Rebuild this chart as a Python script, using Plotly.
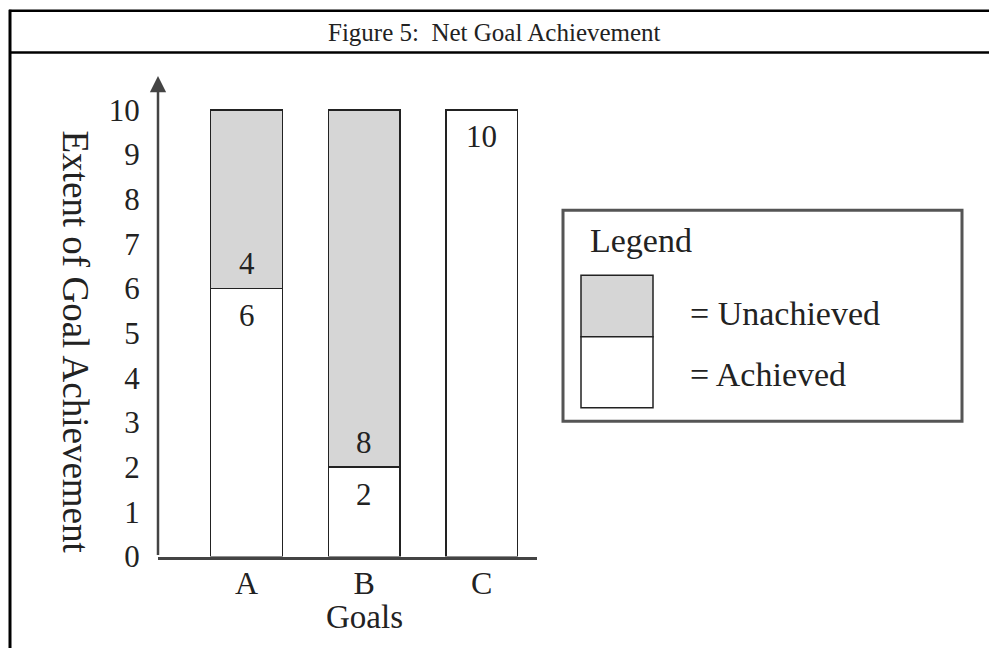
import plotly.graph_objects as go

W, H = 989, 666

# ---- data ----
goals = ["A", "B", "C"]
achieved = [6, 2, 10]
unachieved = [4, 8, 0]
y_ticks = list(range(0, 11))
title_text = "Figure 5:  Net Goal Achievement"
x_title = "Goals"
y_title = "Extent of Goal Achievement"
legend_title = "Legend"
legend_labels = ["= Unachieved", "= Achieved"]

FONT = "Liberation Serif, Times New Roman, serif"
INK = "#222222"
AXIS = "#444444"
GRAY = "#d6d6d6"


def px(x):
    return x / W


def py(y):
    return 1 - y / H


fig = go.Figure()
bar_line = dict(color=INK, width=1.5)
fig.add_bar(x=goals, y=achieved, name="Achieved", width=0.61,
            marker=dict(color="white", line=bar_line), hoverinfo="skip")
fig.add_bar(x=goals, y=unachieved, name="Unachieved", width=0.61,
            marker=dict(color=GRAY, line=bar_line), hoverinfo="skip")

annotations = []
for g, a, u in zip(goals, achieved, unachieved):
    annotations.append(dict(x=g, y=a, xref="x", yref="y", text=str(a), showarrow=False,
                            yanchor="middle", yshift=-27, font=dict(family=FONT, size=31, color=INK)))
    if u > 0:
        annotations.append(dict(x=g, y=a, xref="x", yref="y", text=str(u), showarrow=False,
                                yanchor="middle", yshift=25, font=dict(family=FONT, size=31, color=INK)))

y_top = 10.76
# y axis with arrow
annotations.append(dict(x=px(158), xref="paper", y=y_top, yref="y", ax=0, axref="pixel",
                        ay=0, ayref="y", showarrow=True, arrowhead=2, arrowsize=1.3,
                        arrowwidth=2.5, arrowcolor=AXIS, text=""))

# titles
annotations.append(dict(x=px(494), y=py(33), xref="paper", yref="paper", text=title_text,
                        showarrow=False, xanchor="center", yanchor="middle",
                        font=dict(family=FONT, size=25, color=INK)))
annotations.append(dict(x=px(364), y=py(634), xref="paper", yref="paper", text=x_title,
                        showarrow=False, xanchor="center", yanchor="middle",
                        font=dict(family=FONT, size=33, color=INK)))
annotations.append(dict(x=px(75), y=py(351), xref="paper", yref="paper", text=y_title,
                        showarrow=False, xanchor="center", yanchor="middle", textangle=90,
                        font=dict(family=FONT, size=37, color=INK)))

# legend texts
annotations.append(dict(x=px(588), y=py(247), xref="paper", yref="paper", text=legend_title,
                        showarrow=False, xanchor="left", yanchor="middle",
                        font=dict(family=FONT, size=34, color=INK)))
for lbl, yc in zip(legend_labels, [322, 385]):
    annotations.append(dict(x=px(688), y=py(yc), xref="paper", yref="paper", text=lbl,
                            showarrow=False, xanchor="left", yanchor="middle",
                            font=dict(family=FONT, size=34, color=INK)))

shapes = [
    # outer frame (left + top) and title separator
    dict(type="line", xref="paper", yref="paper", x0=px(10), x1=px(10), y0=py(10), y1=0,
         line=dict(color="black", width=3)),
    dict(type="line", xref="paper", yref="paper", x0=px(9), x1=1, y0=py(11), y1=py(11),
         line=dict(color="black", width=2.5)),
    dict(type="line", xref="paper", yref="paper", x0=px(9), x1=1, y0=py(54), y1=py(54),
         line=dict(color="black", width=2.5)),
    # legend box
    dict(type="rect", xref="paper", yref="paper", x0=px(563), x1=px(962), y0=py(216), y1=py(433),
         line=dict(color="#555555", width=3), fillcolor="rgba(0,0,0,0)"),
    dict(type="rect", xref="paper", yref="paper", x0=px(581), x1=px(653), y0=py(283), y1=py(346),
         line=dict(color=INK, width=1.5), fillcolor=GRAY),
    dict(type="rect", xref="paper", yref="paper", x0=px(581), x1=px(653), y0=py(346), y1=py(419),
         line=dict(color=INK, width=1.5), fillcolor="white"),
]

fig.update_layout(
    width=W, height=H,
    margin=dict(l=0, r=0, t=0, b=0),
    paper_bgcolor="white", plot_bgcolor="white",
    barmode="stack", showlegend=False,
    annotations=annotations, shapes=shapes,
    xaxis=dict(domain=[px(158), px(537)], range=[-0.753, 2.47], type="category",
               categoryorder="array", categoryarray=goals,
               showline=True, linecolor=AXIS, linewidth=2.5, showgrid=False, zeroline=False,
               ticks="outside", ticklen=0, tickcolor="rgba(0,0,0,0)", ticklabelstandoff=-4,
               tickfont=dict(family=FONT, size=32, color=INK), fixedrange=True),
    yaxis=dict(domain=[py(572), py(78)], range=[0, y_top], tickvals=y_ticks,
               showline=False, showgrid=False, zeroline=False,
               ticks="outside", ticklen=11, tickcolor="rgba(0,0,0,0)",
               tickfont=dict(family=FONT, size=31, color=INK), fixedrange=True),
)

fig.write_html("out.html", config={"displayModeBar": False},
               post_script="document.body.style.margin='0';document.body.style.overflow='hidden';")
